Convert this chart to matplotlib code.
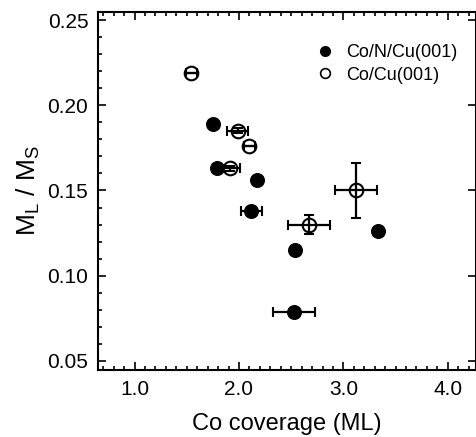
import numpy as np
import matplotlib.pyplot as plt
from matplotlib.ticker import MultipleLocator
from matplotlib.lines import Line2D

plt.rcParams['font.family'] = ['Liberation Sans', 'DejaVu Sans']

# Co/N/Cu(001)
cn_x = [1.75, 1.79, 2.17, 2.12, 2.54, 2.53, 3.33]
cn_y = [0.189, 0.163, 0.156, 0.138, 0.115, 0.079, 0.126]
cn_xerr = [0.0, 0.0, 0.0, 0.10, 0.0, 0.20, 0.0]
cn_yerr = [0.0, 0.0, 0.0, 0.0, 0.0, 0.0, 0.0]

# Co/Cu(001)
cc_x = [1.545, 1.99, 2.10, 1.91, 2.67, 3.12]
cc_y = [0.219, 0.185, 0.176, 0.163, 0.130, 0.150]
cc_xerr = [0.055, 0.10, 0.055, 0.10, 0.20, 0.20]
cc_yerr = [0.0, 0.0015, 0.0, 0.0015, 0.0057, 0.016]

fig = plt.figure(figsize=(4.77, 4.37), dpi=100)
ax = fig.add_axes([98 / 477, 1 - 370 / 437, 378 / 477, 358 / 437])

# filled points first, open ones on top; error bars drawn over the markers
ax.plot(cn_x, cn_y, 'o', ms=9.8, mfc='black', mec='black', zorder=3)
ax.errorbar(cn_x, cn_y, xerr=cn_xerr, yerr=cn_yerr, fmt='none',
            ecolor='black', elinewidth=1.6, capsize=3.5, capthick=1.5, zorder=4)
ax.plot(cc_x, cc_y, 'o', ms=9.8, mfc='white', mec='black', mew=1.5, zorder=5)
ax.errorbar(cc_x, cc_y, xerr=cc_xerr, yerr=cc_yerr, fmt='none',
            ecolor='black', elinewidth=1.6, capsize=3.5, capthick=1.5, zorder=6)

ax.set_xlim(0.65, 4.27)
ax.set_ylim(0.0447, 0.2547)
ax.xaxis.set_major_locator(MultipleLocator(1.0))
ax.xaxis.set_minor_locator(MultipleLocator(0.1))
ax.yaxis.set_major_locator(MultipleLocator(0.05))
ax.yaxis.set_minor_locator(MultipleLocator(0.01))
ax.xaxis.set_major_formatter(plt.FormatStrFormatter('%.1f'))
ax.yaxis.set_major_formatter(plt.FormatStrFormatter('%.2f'))

ax.tick_params(which='both', direction='in', top=True, right=True,
               labelsize=15, width=1.2)
ax.tick_params(which='major', length=6, pad=7)
ax.tick_params(which='minor', length=3)
ax.tick_params(axis='y', which='minor', right=False)
for s in ax.spines.values():
    s.set_linewidth(1.5)

ax.set_xlabel('Co coverage (ML)', fontsize=17, labelpad=10)
ax.set_ylabel('M$_\\mathregular{L}$ / M$_\\mathregular{S}$', fontsize=19, labelpad=4)

handles = [
    Line2D([], [], ls='none', marker='o', ms=7, mfc='black', mec='black'),
    Line2D([], [], ls='none', marker='o', ms=7, mfc='white', mec='black', mew=1.2),
]
ax.legend(handles, ['Co/N/Cu(001)', 'Co/Cu(001)'], loc='upper right',
          bbox_to_anchor=(0.995, 0.955), frameon=False, fontsize=13,
          handletextpad=0.6, labelspacing=0.3, handlelength=1.2)

fig.savefig('out.png', dpi=100)
